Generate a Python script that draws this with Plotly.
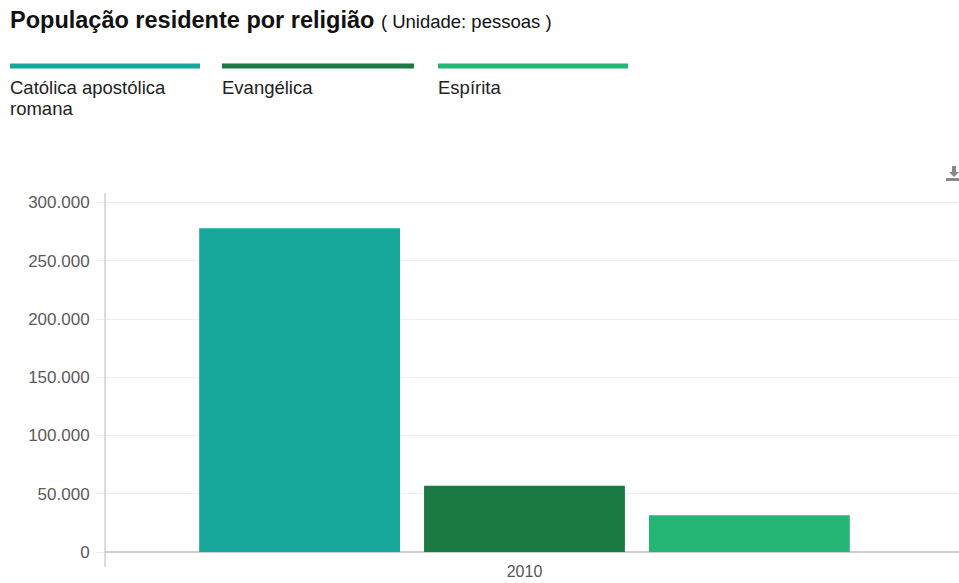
import plotly.graph_objects as go

# Data
categories = ["2010"]
series_names = ["Católica apostólica romana", "Evangélica", "Espírita"]
legend_lines = [["Católica apostólica", "romana"], ["Evangélica"], ["Espírita"]]
series_values = [[277900], [56900], [31500]]
series_colors = ["#17A79A", "#1A7A41", "#25B574"]
y_ticks = [0, 50000, 100000, 150000, 200000, 250000, 300000]

W, H = 959, 583
L, R, T, B = 105, 0, 193, 31
PW, PH = W - L - R, H - T - B
FONT = "Liberation Sans, Arial, Helvetica"


def px(x):
    return (x - L) / PW


def py(y):
    return (H - B - y) / PH


fig = go.Figure()
for name, vals, col in zip(series_names, series_values, series_colors):
    fig.add_trace(go.Bar(
        x=[0], y=vals, name=name,
        marker=dict(color=col, line=dict(width=0)),
        showlegend=False, hoverinfo="y",
    ))

shapes = []
annotations = []

# Header title
annotations.append(dict(
    xref="paper", yref="paper", x=px(8), y=py(20), xanchor="left", yanchor="middle",
    text="<b>População residente por religião</b> <span style='font-size:18.5px'>( Unidade: pessoas )</span>",
    showarrow=False, font=dict(size=23.5, color="#111111", family=FONT),
))

# Custom legend: coloured bar above each label
legend_x = [(10, 200), (222, 414), (438, 628)]
for (x0, x1), lines, col in zip(legend_x, legend_lines, series_colors):
    shapes.append(dict(type="line", xref="paper", yref="paper",
                       x0=px(x0), x1=px(x1), y0=py(66), y1=py(66),
                       line=dict(color=col, width=5)))
    for i, line in enumerate(lines):
        annotations.append(dict(
            xref="paper", yref="paper", x=px(x0 - 2), y=py(88 + 20 * i),
            xanchor="left", yanchor="middle",
            text=line, align="left", showarrow=False,
            font=dict(size=18.5, color="#222222", family=FONT),
        ))

# Vertical axis line, extending a little below the baseline
shapes.append(dict(type="line", xref="paper", yref="paper",
                   x0=0, x1=0, y0=py(567), y1=1,
                   line=dict(color="#BBBBBB", width=1)))

# Small download icon in the corner
shapes.append(dict(type="path", xref="paper", yref="paper",
                   path=f"M {px(952)},{py(166)} L {px(956)},{py(166)} L {px(956)},{py(172)} "
                        f"L {px(959)},{py(172)} L {px(954)},{py(177)} L {px(949)},{py(172)} "
                        f"L {px(952)},{py(172)} Z",
                   fillcolor="#888888", line=dict(width=0)))
shapes.append(dict(type="rect", xref="paper", yref="paper",
                   x0=px(946), x1=px(959), y0=py(181), y1=py(178),
                   fillcolor="#888888", line=dict(width=0)))

fig.update_layout(
    width=W, height=H,
    margin=dict(l=L, r=R, t=T, b=B, pad=0, autoexpand=False),
    paper_bgcolor="white", plot_bgcolor="white",
    separators=",.",
    barmode="group", bargap=0.21, bargroupgap=0.107,
    font=dict(family=FONT, color="#555555", size=16),
    xaxis=dict(
        range=[-0.4912, 0.5088], tickmode="array", tickvals=[0], ticktext=categories,
        showgrid=False, zeroline=False, showline=False, ticks="",
        ticklabelstandoff=8, automargin=False,
        tickfont=dict(size=16, color="#555555", family=FONT), fixedrange=True,
    ),
    yaxis=dict(
        range=[0, 300000 * (H - B - T) / 349.5], tickmode="array", tickvals=y_ticks,
        tickformat=",d", showgrid=True, gridcolor="#EEEEEE", gridwidth=1,
        zeroline=True, zerolinecolor="#CCCCCC", zerolinewidth=2,
        showline=False, ticks="outside", ticklen=8, tickcolor="#EEEEEE",
        ticklabelstandoff=3, automargin=False,
        tickfont=dict(size=17, color="#5A5A5A", family=FONT), fixedrange=True,
    ),
    shapes=shapes, annotations=annotations,
)

fig.write_html("out.html")
